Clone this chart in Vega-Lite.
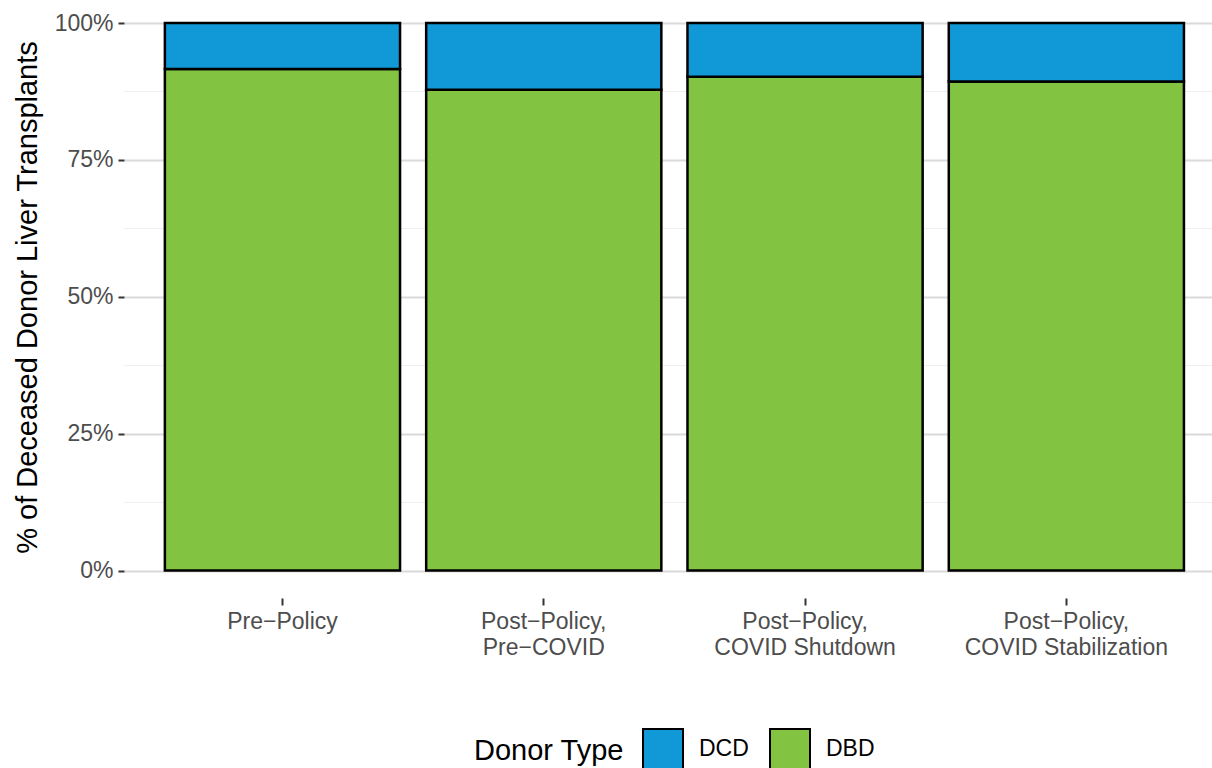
{
  "$schema": "https://vega.github.io/schema/vega-lite/v6.json",
  "width": 1088,
  "height": 575,
  "autosize": {"type": "none"},
  "padding": {"left": 124, "top": 23, "right": 0, "bottom": 170},
  "background": "white",
  "config": {
    "view": {"stroke": null},
    "font": "Liberation Sans"
  },
  "data": {
    "values": [
      {"period": "Pre−Policy", "type": "DBD", "share": 0.916},
      {"period": "Pre−Policy", "type": "DCD", "share": 0.084},
      {"period": "Post−Policy,\nPre−COVID", "type": "DBD", "share": 0.878},
      {"period": "Post−Policy,\nPre−COVID", "type": "DCD", "share": 0.122},
      {"period": "Post−Policy,\nCOVID Shutdown", "type": "DBD", "share": 0.902},
      {"period": "Post−Policy,\nCOVID Shutdown", "type": "DCD", "share": 0.098},
      {"period": "Post−Policy,\nCOVID Stabilization", "type": "DBD", "share": 0.893},
      {"period": "Post−Policy,\nCOVID Stabilization", "type": "DCD", "share": 0.107}
    ]
  },
  "mark": {"type": "bar", "stroke": "black", "strokeWidth": 2.5, "opacity": 1},
  "encoding": {
    "x": {
      "field": "period",
      "type": "nominal",
      "sort": null,
      "scale": {"paddingInner": 0.1, "paddingOuter": 0.1319, "align": 0.593, "round": false},
      "axis": {
        "title": null,
        "labelAngle": 0,
        "labelExpr": "split(datum.label, '\\n')",
        "labelFontSize": 23,
        "labelColor": "#4d4d4d",
        "labelLineHeight": 26,
        "labelPadding": 5,
        "labelBaseline": "top",
        "labelLimit": 0,
        "ticks": true,
        "tickSize": 7,
        "tickWidth": 2,
        "tickColor": "#333333",
        "domain": false,
        "grid": false
      }
    },
    "y": {
      "field": "share",
      "type": "quantitative",
      "stack": "zero",
      "scale": {"domain": [-0.05, 1], "nice": false, "zero": false},
      "axis": {
        "title": "% of Deceased Donor Liver Transplants",
        "titleFontSize": 29,
        "titleFontWeight": "normal",
        "titleColor": "black",
        "titleX": -97,
        "titleY": 274,
        "titleAlign": "center",
        "titleBaseline": "middle",
        "titleAngle": -90,
        "values": [0, 0.125, 0.25, 0.375, 0.5, 0.625, 0.75, 0.875, 1],
        "labelExpr": "datum.value % 0.25 === 0 ? format(datum.value, '.0%') : ''",
        "labelOverlap": false,
        "labelFontSize": 23,
        "labelColor": "#4d4d4d",
        "labelPadding": 5,
        "tickSize": 6,
        "tickWidth": 2,
        "tickColor": {"condition": {"test": "datum.value % 0.25 !== 0", "value": "transparent"}, "value": "#333333"},
        "domain": false,
        "grid": true,
        "gridColor": {"condition": {"test": "datum.value % 0.25 !== 0", "value": "#efefef"}, "value": "#dadada"},
        "gridWidth": {"condition": {"test": "datum.value % 0.25 !== 0", "value": 1}, "value": 2}
      }
    },
    "color": {
      "field": "type",
      "type": "nominal",
      "scale": {"domain": ["DCD", "DBD"], "range": ["#1198d6", "#82c341"]},
      "legend": {
        "title": "Donor Type",
        "orient": "none",
        "legendX": 350,
        "legendY": 705,
        "direction": "horizontal",
        "titleOrient": "left",
        "titleFontSize": 29,
        "titleFontWeight": "normal",
        "titleColor": "black",
        "titlePadding": 18,
        "symbolType": "square",
        "symbolSize": 1600,
        "symbolStrokeWidth": 2,
        "symbolStrokeColor": "black",
        "symbolOpacity": 1,
        "labelFontSize": 23,
        "labelColor": "black",
        "labelOffset": 15,
        "columnPadding": 17
      }
    },
    "order": {"field": "type", "sort": "ascending"}
  }
}
